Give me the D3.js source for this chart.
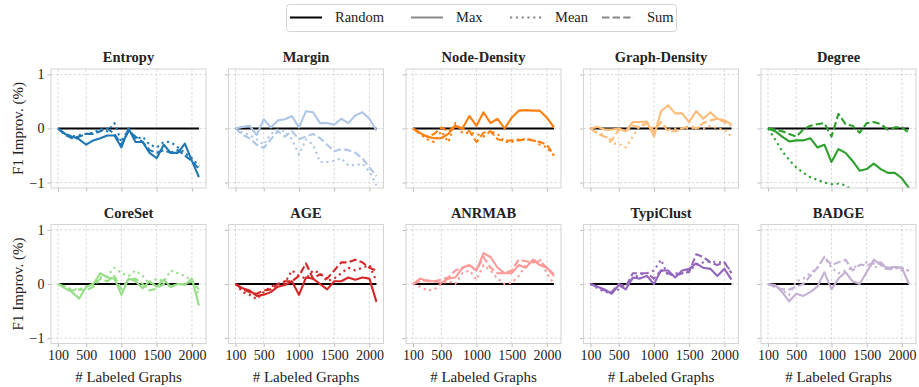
<!DOCTYPE html>
<html><head><meta charset="utf-8">
<script src="https://cdn.jsdelivr.net/npm/d3@7"></script>
<style>body{margin:0;background:#fff}svg{display:block}text{font-family:"Liberation Serif","Times New Roman",serif;fill:#222}</style>
</head><body>
<script>
const xValues = [100,200,300,400,500,600,700,800,900,1000,1100,1200,1300,1400,1500,1600,1700,1800,1900,2000,2100];
const methods = ["Entropy","Margin","Node-Density","Graph-Density","Degree","CoreSet","AGE","ANRMAB","TypiClust","BADGE"];
const colors = ["#1f77b4","#aec7e8","#ff7f0e","#ffbb78","#2ca02c","#98df8a","#d62728","#ff9896","#9467bd","#c5b0d5"];
const xTicks = [100,500,1000,1500,2000];
const yTicks = [-1,0,1];
const legendLabels = ["Random","Max","Mean","Sum"];

const maxVals = {
  "Entropy":[0,-0.1,-0.15,-0.2,-0.3,-0.22,-0.18,-0.13,-0.13,-0.35,0.0,-0.25,-0.25,-0.45,-0.55,-0.3,-0.45,-0.45,-0.28,-0.6,-0.9],
  "Margin":[0,0.03,0.05,-0.12,0.17,0.02,0.15,0.17,0.23,0.02,0.32,0.3,0.1,0.1,0.07,0.18,0.1,0.24,0.3,0.18,-0.04],
  "Node-Density":[0,-0.08,-0.15,-0.18,-0.18,-0.1,0.05,0.0,0.23,0.05,0.3,0.1,0.18,0.0,0.2,0.33,0.34,0.33,0.33,0.2,0.02],
  "Graph-Density":[0,0.03,-0.02,-0.02,0.0,-0.05,0.12,0.12,0.13,-0.15,0.32,0.43,0.28,0.28,0.12,0.32,0.18,0.3,0.18,0.15,0.08],
  "Degree":[0,-0.05,-0.15,-0.24,-0.22,-0.22,-0.18,-0.35,-0.3,-0.62,-0.38,-0.45,-0.6,-0.78,-0.75,-0.65,-0.75,-0.82,-0.82,-0.92,-1.1],
  "CoreSet":[0,-0.08,-0.15,-0.27,-0.05,0.0,0.2,0.12,0.1,-0.2,0.1,0.05,-0.08,0.05,-0.05,0.08,-0.05,0.0,-0.02,0.1,-0.4],
  "AGE":[0,-0.08,-0.12,-0.22,-0.2,-0.15,-0.05,-0.02,0.05,-0.2,0.12,0.1,0.0,-0.1,0.05,0.05,0.12,0.08,0.12,0.1,-0.33],
  "ANRMAB":[0,0.1,0.05,0.05,0.02,0.1,0.12,0.3,0.35,0.25,0.57,0.5,0.3,0.2,0.2,0.35,0.3,0.45,0.35,0.3,0.18],
  "TypiClust":[0,-0.05,-0.1,-0.18,-0.02,-0.1,0.12,0.1,0.15,0.0,0.25,0.25,0.12,0.25,0.28,0.38,0.3,0.28,0.15,0.28,0.08],
  "BADGE":[0,-0.02,-0.15,-0.32,-0.18,-0.22,-0.15,-0.05,0.22,-0.1,0.1,0.22,0.05,0.0,0.22,0.45,0.35,0.3,0.32,0.3,0.0]
};
const meanVals = {
  "Entropy":[0,-0.1,-0.15,-0.12,-0.1,-0.08,0.0,-0.05,0.1,-0.25,0.0,-0.2,-0.15,-0.3,-0.35,-0.25,-0.25,-0.35,-0.45,-0.55,-0.7],
  "Margin":[0,-0.08,-0.12,-0.2,-0.3,-0.1,-0.02,-0.05,-0.2,-0.48,-0.2,-0.3,-0.62,-0.62,-0.6,-0.55,-0.68,-0.68,-0.65,-0.8,-1.05],
  "Node-Density":[0,-0.1,-0.2,-0.25,-0.05,-0.25,0.1,-0.08,-0.08,-0.1,-0.15,-0.05,-0.1,-0.25,-0.25,-0.2,-0.2,-0.2,-0.3,-0.35,-0.5],
  "Graph-Density":[0,-0.08,-0.12,-0.28,-0.28,-0.35,-0.15,0.05,0.1,0.0,0.12,-0.02,0.0,0.0,0.0,0.02,0.0,0.05,0.0,-0.02,-0.15],
  "Degree":[0,-0.2,-0.42,-0.58,-0.72,-0.82,-0.9,-0.95,-1.0,-1.03,-1.02,-1.05,-1.15,-1.2,-1.25,-1.3,-1.35,-1.4,-1.45,-1.5,-1.55],
  "CoreSet":[0,-0.05,-0.1,-0.1,-0.05,0.0,0.12,0.15,0.3,0.2,0.15,0.25,0.15,0.0,0.1,0.05,0.25,0.2,0.15,0.05,-0.2],
  "AGE":[0,-0.15,-0.2,-0.28,-0.15,-0.05,0.0,0.02,0.25,0.15,0.1,0.25,0.2,0.05,0.1,0.2,0.3,0.25,0.3,0.35,0.05],
  "ANRMAB":[0,-0.05,-0.12,-0.1,0.0,0.05,0.0,0.2,0.25,0.08,0.35,0.25,0.1,0.0,0.02,0.15,0.35,0.42,0.45,0.2,0.0],
  "TypiClust":[0,-0.08,-0.15,-0.15,-0.1,-0.02,0.1,0.18,0.2,0.25,0.45,0.15,0.2,0.2,0.25,0.35,0.4,0.42,0.4,0.4,0.22],
  "BADGE":[0,-0.05,-0.12,-0.2,0.05,0.1,0.2,0.3,0.5,0.3,0.2,0.25,0.3,0.35,0.4,0.3,0.35,0.25,0.3,0.25,0.25]
};
const sumVals = {
  "Entropy":[0,-0.12,-0.18,-0.15,-0.1,-0.1,-0.05,0.0,-0.1,-0.3,-0.05,-0.15,-0.25,-0.4,-0.45,-0.4,-0.45,-0.4,-0.5,-0.6,-0.75],
  "Margin":[0,-0.12,-0.18,-0.3,-0.36,-0.2,-0.05,-0.15,-0.05,-0.2,-0.15,-0.1,-0.18,-0.3,-0.42,-0.38,-0.4,-0.45,-0.55,-0.72,-0.88],
  "Node-Density":[0,-0.1,-0.15,-0.1,0.02,-0.05,0.05,0.0,-0.05,-0.25,-0.08,-0.05,-0.2,-0.23,-0.22,-0.22,-0.2,-0.22,-0.25,-0.3,-0.5],
  "Graph-Density":[0,-0.1,-0.15,-0.22,-0.02,-0.05,0.05,0.02,0.1,-0.05,0.12,-0.05,-0.05,0.0,0.05,0.0,0.1,0.15,0.18,0.12,0.05],
  "Degree":[0,-0.02,-0.05,-0.1,-0.15,-0.02,0.05,0.08,0.1,-0.15,0.27,0.08,0.05,-0.08,0.1,0.12,0.08,-0.02,0.02,0.02,-0.08],
  "CoreSet":[0,-0.05,-0.12,-0.1,-0.12,-0.05,0.1,0.05,0.15,-0.1,0.08,0.1,0.0,-0.12,-0.08,0.0,-0.05,0.0,0.0,0.05,-0.1],
  "AGE":[0,-0.1,-0.15,-0.18,-0.12,-0.1,0.0,0.05,0.05,0.15,0.38,0.1,0.18,0.1,0.25,0.4,0.4,0.45,0.4,0.3,0.25],
  "ANRMAB":[0,0.05,0.07,0.05,0.08,0.12,0.25,0.3,0.35,0.25,0.5,0.3,0.2,0.2,0.25,0.45,0.42,0.4,0.42,0.3,0.15],
  "TypiClust":[0,-0.05,-0.12,-0.15,0.0,-0.05,0.2,0.2,0.2,0.1,0.25,0.2,0.15,0.2,0.22,0.55,0.5,0.4,0.35,0.4,0.2],
  "BADGE":[0,-0.05,-0.1,-0.1,-0.05,0.0,0.15,0.3,0.5,0.35,0.4,0.45,0.25,0.35,0.35,0.38,0.4,0.28,0.3,0.3,0.25]
};

const W = 919, H = 387;
const FONT = "Liberation Serif";
const svg = d3.select("body").append("svg").attr("width", W).attr("height", H);
const left0 = 51, colStep = 177.5, pw = 155, ph = 119;
const rowTops = [69, 224.5];
const gridCol = "#cfcfcf";

const styles = [
  {key:"max", dash:null, src:maxVals},
  {key:"mean", dash:"2.2,3.6", src:meanVals},
  {key:"sum", dash:"7.4,3.2", src:sumVals}
];

methods.forEach((m, i) => {
  const r = Math.floor(i / 5), c = i % 5;
  const x0 = left0 + c * colStep, y0 = rowTops[r];
  const g = svg.append("g").attr("transform", `translate(${x0},${y0})`);
  const x = d3.scaleLinear().domain([0, 2200]).range([0, pw]);
  const y = d3.scaleLinear().domain([-1.1, 1.1]).range([ph, 0]);

  // grid
  g.selectAll(".gx").data(xTicks).enter().append("line")
    .attr("x1", d => x(d)).attr("x2", d => x(d)).attr("y1", 0).attr("y2", ph)
    .attr("stroke", gridCol).attr("stroke-width", 0.8).attr("stroke-dasharray", "2.5,2");
  g.selectAll(".gy").data(yTicks).enter().append("line")
    .attr("y1", d => y(d)).attr("y2", d => y(d)).attr("x1", 0).attr("x2", pw)
    .attr("stroke", gridCol).attr("stroke-width", 0.8).attr("stroke-dasharray", "2.5,2");

  // axes
  const xa = g.append("g").attr("transform", `translate(0,${ph})`)
    .call(d3.axisBottom(x).tickValues(xTicks).tickSize(3.5).tickSizeOuter(0).tickPadding(3)
      .tickFormat(r === 1 ? d3.format("d") : () => ""));
  const ya = g.append("g")
    .call(d3.axisLeft(y).tickValues(yTicks).tickSize(3.5).tickSizeOuter(0).tickPadding(3)
      .tickFormat(c === 0 ? d3.format("d") : () => ""));
  [xa, ya].forEach(a => {
    a.attr("font-family", FONT);
    a.select(".domain").remove();
    a.selectAll(".tick line").attr("stroke", "#bbb");
    a.selectAll(".tick text").attr("font-family", FONT).attr("font-size", 14).attr("fill", "#222");
  });

  // clip
  const cid = "clip" + i;
  g.append("clipPath").attr("id", cid).append("rect").attr("width", pw).attr("height", ph);
  const plot = g.append("g").attr("clip-path", `url(#${cid})`);

  const line = d3.line().x((d, k) => x(xValues[k])).y(d => y(d));
  // random baseline
  plot.append("path").datum(xValues.map(() => 0)).attr("d", line)
    .attr("fill", "none").attr("stroke", "#000").attr("stroke-width", 1.8);

  styles.forEach(s => {
    plot.append("path").datum(s.src[m]).attr("d", line)
      .attr("fill", "none").attr("stroke", colors[i]).attr("stroke-width", 2.1)
      .attr("stroke-linejoin", "round")
      .attr("stroke-dasharray", s.dash);
  });

  // frame
  g.append("rect").attr("width", pw).attr("height", ph).attr("fill", "none")
    .attr("stroke", "#d4d4d4").attr("stroke-width", 1);

  // title
  g.append("text").attr("x", pw / 2).attr("y", -7).attr("text-anchor", "middle")
    .attr("font-family", FONT).attr("font-weight", "bold").attr("font-size", 14.5).text(m);

  if (r === 1) {
    g.append("text").attr("x", pw / 2).attr("y", ph + 38).attr("text-anchor", "middle")
      .attr("font-family", FONT).attr("font-size", 15).text("# Labeled Graphs");
  }
  if (c === 0) {
    g.append("text").attr("transform", `translate(${-28},${ph / 2}) rotate(-90)`)
      .attr("text-anchor", "middle").attr("font-family", FONT).attr("font-size", 15).text("F1 Improv. (%)");
  }
});

// legend
const lg = svg.append("g");
lg.append("rect").attr("x", 286.5).attr("y", 4.5).attr("width", 390).attr("height", 27).attr("rx", 3)
  .attr("fill", "#fff").attr("stroke", "#d4d4d4");
const legStyles = [
  {color:"#000", dash:null, x:290},
  {color:"#888", dash:null, x:411},
  {color:"#888", dash:"2.2,3.6", x:510},
  {color:"#888", dash:"7.4,3.2", x:602}
];
legendLabels.forEach((l, k) => {
  const s = legStyles[k];
  lg.append("line").attr("x1", s.x).attr("x2", s.x + 32).attr("y1", 17.5).attr("y2", 17.5)
    .attr("stroke", s.color).attr("stroke-width", 2).attr("stroke-dasharray", s.dash);
  lg.append("text").attr("x", s.x + 45).attr("y", 22).attr("font-family", FONT).attr("font-size", 14.5).text(l);
});
</script>
</body></html>
